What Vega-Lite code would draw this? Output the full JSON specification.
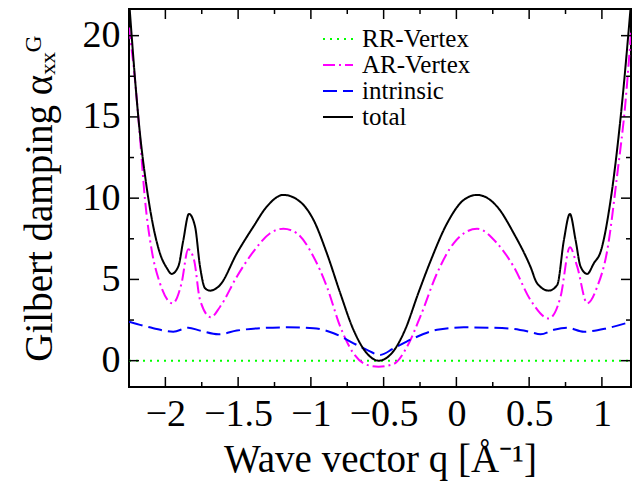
{
 "$schema": "https://vega.github.io/schema/vega-lite/v6.json",
 "width": 502, "height": 378,
 "autosize": {"type": "none"},
 "padding": {"left": 129, "top": 9, "right": 8, "bottom": 94},
 "background": "white",
 "config": {
  "view": {"stroke": "black", "strokeWidth": 2},
  "font": "Liberation Serif",
  "axis": {"domain": false, "ticks": false, "grid": false, "labelFont": "Liberation Serif", "labelFontSize": 38, "labelColor": "black", "titleFont": "Liberation Serif", "titleFontSize": 39, "titleFontWeight": "normal", "titleColor": "black", "labelOverlap": false, "labelFlush": false}
 },
 "datasets": {
  "xticks": [
   {"q": -2, "m": "major"}, {"q": -1.75, "m": "minor"}, {"q": -1.5, "m": "major"}, {"q": -1.25, "m": "minor"}, {"q": -1, "m": "major"}, {"q": -0.75, "m": "minor"}, {"q": -0.5, "m": "major"}, {"q": -0.25, "m": "minor"}, {"q": 0, "m": "major"}, {"q": 0.25, "m": "minor"}, {"q": 0.5, "m": "major"}, {"q": 0.75, "m": "minor"}, {"q": 1, "m": "major"}
  ],
  "yticks": [
   {"v": 0, "m": "major"}, {"v": 2.5, "m": "minor"}, {"v": 5, "m": "major"}, {"v": 7.5, "m": "minor"}, {"v": 10, "m": "major"}, {"v": 12.5, "m": "minor"}, {"v": 15, "m": "major"}, {"v": 17.5, "m": "minor"}, {"v": 20, "m": "major"}
  ],
  "curves": [
   {"q": -2.25, "v": 0, "s": "RR-Vertex"}, {"q": 1.2, "v": 0, "s": "RR-Vertex"},
   {"q": -2.25, "v": 20.5, "s": "AR-Vertex"}, {"q": -2.209, "v": 17.3, "s": "AR-Vertex"}, {"q": -2.175, "v": 13.8, "s": "AR-Vertex"}, {"q": -2.14, "v": 9.9, "s": "AR-Vertex"}, {"q": -2.094, "v": 6.8, "s": "AR-Vertex"}, {"q": -2.037, "v": 4.76, "s": "AR-Vertex"}, {"q": -1.95, "v": 3.53, "s": "AR-Vertex"}, {"q": -1.889, "v": 4.76, "s": "AR-Vertex"}, {"q": -1.843, "v": 6.85, "s": "AR-Vertex"}, {"q": -1.803, "v": 6.2, "s": "AR-Vertex"}, {"q": -1.762, "v": 3.74, "s": "AR-Vertex"}, {"q": -1.688, "v": 2.67, "s": "AR-Vertex"}, {"q": -1.624, "v": 3.32, "s": "AR-Vertex"}, {"q": -1.509, "v": 5.17, "s": "AR-Vertex"}, {"q": -1.395, "v": 6.71, "s": "AR-Vertex"}, {"q": -1.28, "v": 7.84, "s": "AR-Vertex"}, {"q": -1.189, "v": 8.12, "s": "AR-Vertex"}, {"q": -1.097, "v": 7.84, "s": "AR-Vertex"}, {"q": -0.982, "v": 6.4, "s": "AR-Vertex"}, {"q": -0.89, "v": 4.55, "s": "AR-Vertex"}, {"q": -0.798, "v": 2.09, "s": "AR-Vertex"}, {"q": -0.707, "v": 0.45, "s": "AR-Vertex"}, {"q": -0.615, "v": -0.26, "s": "AR-Vertex"}, {"q": -0.535, "v": -0.37, "s": "AR-Vertex"}, {"q": -0.431, "v": -0.2, "s": "AR-Vertex"}, {"q": -0.339, "v": 0.86, "s": "AR-Vertex"}, {"q": -0.248, "v": 2.71, "s": "AR-Vertex"}, {"q": -0.133, "v": 5.38, "s": "AR-Vertex"}, {"q": -0.019, "v": 7.22, "s": "AR-Vertex"}, {"q": 0.142, "v": 8.12, "s": "AR-Vertex"}, {"q": 0.28, "v": 7.22, "s": "AR-Vertex"}, {"q": 0.394, "v": 5.78, "s": "AR-Vertex"}, {"q": 0.509, "v": 3.74, "s": "AR-Vertex"}, {"q": 0.635, "v": 2.6, "s": "AR-Vertex"}, {"q": 0.716, "v": 3.94, "s": "AR-Vertex"}, {"q": 0.78, "v": 6.98, "s": "AR-Vertex"}, {"q": 0.83, "v": 5.8, "s": "AR-Vertex"}, {"q": 0.899, "v": 3.53, "s": "AR-Vertex"}, {"q": 0.968, "v": 4.55, "s": "AR-Vertex"}, {"q": 1.037, "v": 6.8, "s": "AR-Vertex"}, {"q": 1.106, "v": 11.5, "s": "AR-Vertex"}, {"q": 1.163, "v": 16.0, "s": "AR-Vertex"}, {"q": 1.2, "v": 20.2, "s": "AR-Vertex"},
   {"q": -2.25, "v": 2.4, "s": "intrinsic"}, {"q": -2.083, "v": 2.0, "s": "intrinsic"}, {"q": -1.946, "v": 1.78, "s": "intrinsic"}, {"q": -1.843, "v": 2.03, "s": "intrinsic"}, {"q": -1.762, "v": 1.85, "s": "intrinsic"}, {"q": -1.636, "v": 1.62, "s": "intrinsic"}, {"q": -1.509, "v": 1.85, "s": "intrinsic"}, {"q": -1.349, "v": 2.0, "s": "intrinsic"}, {"q": -1.165, "v": 2.05, "s": "intrinsic"}, {"q": -0.982, "v": 2.0, "s": "intrinsic"}, {"q": -0.844, "v": 1.69, "s": "intrinsic"}, {"q": -0.707, "v": 1.07, "s": "intrinsic"}, {"q": -0.615, "v": 0.66, "s": "intrinsic"}, {"q": -0.525, "v": 0.35, "s": "intrinsic"}, {"q": -0.431, "v": 0.76, "s": "intrinsic"}, {"q": -0.294, "v": 1.38, "s": "intrinsic"}, {"q": -0.133, "v": 1.9, "s": "intrinsic"}, {"q": 0.05, "v": 2.05, "s": "intrinsic"}, {"q": 0.234, "v": 2.03, "s": "intrinsic"}, {"q": 0.394, "v": 1.95, "s": "intrinsic"}, {"q": 0.509, "v": 1.76, "s": "intrinsic"}, {"q": 0.578, "v": 1.62, "s": "intrinsic"}, {"q": 0.67, "v": 1.9, "s": "intrinsic"}, {"q": 0.762, "v": 2.03, "s": "intrinsic"}, {"q": 0.876, "v": 1.78, "s": "intrinsic"}, {"q": 1.037, "v": 2.0, "s": "intrinsic"}, {"q": 1.2, "v": 2.4, "s": "intrinsic"},
   {"q": -2.25, "v": 22.2, "s": "total"}, {"q": -2.175, "v": 14.0, "s": "total"}, {"q": -2.129, "v": 10.7, "s": "total"}, {"q": -2.083, "v": 8.25, "s": "total"}, {"q": -2.037, "v": 6.6, "s": "total"}, {"q": -1.99, "v": 5.7, "s": "total"}, {"q": -1.957, "v": 5.34, "s": "total"}, {"q": -1.911, "v": 5.8, "s": "total"}, {"q": -1.877, "v": 7.4, "s": "total"}, {"q": -1.838, "v": 9.03, "s": "total"}, {"q": -1.796, "v": 8.25, "s": "total"}, {"q": -1.762, "v": 5.8, "s": "total"}, {"q": -1.727, "v": 4.45, "s": "total"}, {"q": -1.693, "v": 4.31, "s": "total"}, {"q": -1.624, "v": 4.66, "s": "total"}, {"q": -1.509, "v": 6.6, "s": "total"}, {"q": -1.395, "v": 8.25, "s": "total"}, {"q": -1.303, "v": 9.48, "s": "total"}, {"q": -1.189, "v": 10.2, "s": "total"}, {"q": -1.074, "v": 9.78, "s": "total"}, {"q": -0.982, "v": 8.66, "s": "total"}, {"q": -0.89, "v": 6.6, "s": "total"}, {"q": -0.798, "v": 4.15, "s": "total"}, {"q": -0.707, "v": 1.89, "s": "total"}, {"q": -0.615, "v": 0.45, "s": "total"}, {"q": -0.535, "v": 0.0, "s": "total"}, {"q": -0.445, "v": 0.45, "s": "total"}, {"q": -0.353, "v": 1.89, "s": "total"}, {"q": -0.262, "v": 4.15, "s": "total"}, {"q": -0.179, "v": 6.1, "s": "total"}, {"q": -0.064, "v": 8.45, "s": "total"}, {"q": 0.05, "v": 9.89, "s": "total"}, {"q": 0.142, "v": 10.2, "s": "total"}, {"q": 0.28, "v": 9.48, "s": "total"}, {"q": 0.394, "v": 7.84, "s": "total"}, {"q": 0.509, "v": 5.78, "s": "total"}, {"q": 0.555, "v": 4.76, "s": "total"}, {"q": 0.635, "v": 4.31, "s": "total"}, {"q": 0.693, "v": 4.66, "s": "total"}, {"q": 0.739, "v": 7.43, "s": "total"}, {"q": 0.78, "v": 9.03, "s": "total"}, {"q": 0.819, "v": 7.43, "s": "total"}, {"q": 0.853, "v": 5.8, "s": "total"}, {"q": 0.899, "v": 5.34, "s": "total"}, {"q": 0.945, "v": 6.0, "s": "total"}, {"q": 0.991, "v": 6.7, "s": "total"}, {"q": 1.06, "v": 9.89, "s": "total"}, {"q": 1.129, "v": 15.0, "s": "total"}, {"q": 1.2, "v": 22.0, "s": "total"}
  ]
 },
 "layer": [
  {
   "data": {"name": "curves"},
   "mark": {"type": "line", "interpolate": "monotone", "clip": true, "strokeWidth": 2},
   "encoding": {
    "x": {"field": "q", "type": "quantitative", "scale": {"domain": [-2.25, 1.2], "nice": false, "zero": false},
     "axis": {"orient": "bottom", "values": [-2, -1.5, -1, -0.5, 0, 0.5, 1],
      "labelExpr": "replace('' + datum.value, '-', '−')", "labelPadding": 8, "title": "Wave vector q [Å⁻¹]", "titlePadding": 7}},
    "y": {"field": "v", "type": "quantitative", "scale": {"domain": [-1.62, 21.64], "nice": false, "zero": false},
     "axis": {"orient": "left", "values": [0, 5, 10, 15, 20],
      "labelExpr": "'' + datum.value", "labelPadding": 9, "title": "Gilbert damping αₓₓᴳ", "titlePadding": 23}},
    "color": {"field": "s", "type": "nominal", "scale": {"domain": ["RR-Vertex", "AR-Vertex", "intrinsic", "total"], "range": ["#00ff00", "#ff00ff", "#0000ff", "#000000"]},
     "legend": {"orient": "none", "legendX": 196, "legendY": 17, "title": null, "padding": 0, "symbolType": "M-1.25,0H1.25", "symbolSize": 576, "symbolStrokeWidth": 2, "symbolFillColor": "transparent", "labelFontSize": 25, "labelFont": "Liberation Serif", "labelColor": "black", "rowPadding": -3, "labelOffset": 11}},
    "strokeDash": {"field": "s", "type": "nominal", "scale": {"domain": ["RR-Vertex", "AR-Vertex", "intrinsic", "total"], "range": [[2, 5], [12, 4, 2, 4], [14, 6], [1, 0]]},
     "legend": {"orient": "none", "legendX": 196, "legendY": 17, "title": null, "padding": 0, "symbolType": "M-1.25,0H1.25", "symbolSize": 576, "symbolStrokeWidth": 2, "symbolFillColor": "transparent", "labelFontSize": 25, "labelFont": "Liberation Serif", "labelColor": "black", "rowPadding": -3, "labelOffset": 11}}
   }
  },
  {
   "data": {"name": "xticks"},
   "mark": {"type": "tick", "orient": "vertical", "thickness": 1.5, "color": "black", "opacity": 1, "clip": true},
   "encoding": {
    "x": {"field": "q", "type": "quantitative"},
    "y": {"datum": -1.62, "type": "quantitative"},
    "size": {"field": "m", "type": "nominal", "scale": {"domain": ["major", "minor"], "range": [20, 10]}, "legend": null}
   }
  },
  {
   "data": {"name": "xticks"},
   "mark": {"type": "tick", "orient": "vertical", "thickness": 1.5, "color": "black", "opacity": 1, "clip": true},
   "encoding": {
    "x": {"field": "q", "type": "quantitative"},
    "y": {"datum": 21.64, "type": "quantitative"},
    "size": {"field": "m", "type": "nominal", "scale": {"domain": ["major", "minor"], "range": [20, 10]}, "legend": null}
   }
  },
  {
   "data": {"name": "yticks"},
   "mark": {"type": "tick", "orient": "horizontal", "thickness": 1.5, "color": "black", "opacity": 1, "clip": true},
   "encoding": {
    "y": {"field": "v", "type": "quantitative"},
    "x": {"datum": -2.25, "type": "quantitative"},
    "size": {"field": "m", "type": "nominal", "scale": {"domain": ["major", "minor"], "range": [20, 10]}, "legend": null}
   }
  },
  {
   "data": {"name": "yticks"},
   "mark": {"type": "tick", "orient": "horizontal", "thickness": 1.5, "color": "black", "opacity": 1, "clip": true},
   "encoding": {
    "y": {"field": "v", "type": "quantitative"},
    "x": {"datum": 1.2, "type": "quantitative"},
    "size": {"field": "m", "type": "nominal", "scale": {"domain": ["major", "minor"], "range": [20, 10]}, "legend": null}
   }
  }
 ]
}
